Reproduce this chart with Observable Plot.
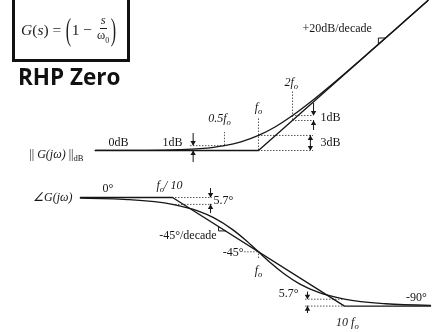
<!DOCTYPE html>
<html>
<head>
<meta charset="utf-8">
<script src="https://cdn.jsdelivr.net/npm/d3@7"></script>
<script src="https://cdn.jsdelivr.net/npm/@observablehq/plot@0.6"></script>
<style>
  html, body { margin: 0; padding: 0; background: #fff; }
  #page { position: relative; width: 436px; height: 332px; overflow: hidden; background: #fff; }
  #mag, #phase { position: absolute; left: 0; will-change: transform; }
  #mag { top: 0; }
  #phase { top: 170px; }
  #box {
    position: absolute; left: 12px; top: -3px; width: 106px; height: 59px;
    padding-left: 6px; border: 3px solid #111; color: #1e1e1e;
    font-family: "Liberation Serif", serif; font-size: 15.5px;
    display: flex; align-items: center; white-space: nowrap;
  }
  #box .it { font-style: italic; }
  #box .big { display: inline-block; font-size: 32px; line-height: 1; transform: scaleX(0.5); margin: 0 -2px; position: relative; top: -1px; }
  #box .frac { display: inline-flex; flex-direction: column; align-items: center; font-size: 12.5px; line-height: 1.05; margin: 0 1px; }
  #box .frac .num { border-bottom: 1px solid #1e1e1e; padding: 0 1px; font-style: italic; }
  #box sub { font-size: 8px; }
  #title {
    position: absolute; left: 18px; top: 66px; line-height: 1;
    font-family: "Open Sans", sans-serif; font-weight: 700; font-size: 22.5px; color: #111;
  }
</style>
</head>
<body>
<div id="page">
  <div id="mag"></div>
  <div id="phase"></div>
  <div id="box"><span class="it">G</span>(<span class="it">s</span>)&nbsp;=&nbsp;<span class="big">(</span>1&nbsp;−&nbsp;<span class="frac"><span class="num">s</span><span>ω<sub>0</sub></span></span><span class="big">)</span></div>
  <div id="title">RHP Zero</div>
</div>
<script>
// Frequencies are in units of f0.
// Magnitude: exact response and straight-line asymptote (dB)
const magFreq = [0.036, 0.1, 0.2, 0.3, 0.4, 0.5, 0.7, 1, 1.4, 2, 3, 5, 10, 20, 31.6];
const magDb   = [0.01, 0.04, 0.17, 0.37, 0.64, 0.97, 1.73, 3.01, 4.70, 6.99, 10.0, 14.15, 20.04, 26.03, 30.0];
const magAsymFreq = [0.036, 1, 31.6];
const magAsymDb   = [0, 0, 30];

// Phase: exact response and asymptote (degrees)
const phaseFreq = [0.0085, 0.03, 0.1, 0.2, 0.3, 0.5, 0.7, 1, 1.4, 2, 3, 5, 10, 30, 100];
const phaseDeg  = [-0.5, -1.7, -5.7, -11.3, -16.7, -26.6, -35.0, -45.0, -54.5, -63.4, -71.6, -78.7, -84.3, -88.1, -89.4];
const phaseAsymFreq = [0.0085, 0.1, 10, 100];
const phaseAsymDeg  = [0, 0, -90, -90];

// Magnitude guides: dotted verticals at 0.5f0, f0, 2f0 and dotted levels
const magGuideFreq = [0.5, 1, 2];
const magGuideLo   = [0.97, 0, 6.0];
const magGuideHi   = [3.6, 6.4, 12];
const magLevelDb   = [0.97, 3.01, 0, 6.99, 6.0];
const magLevelFrom = [0.25, 1, 1, 2, 2];
const magLevelTo   = [0.5, 3.07, 3.07, 3.07, 3.07];
// Magnitude dimension arrows (tail -> tip)
const magArrowFreq = [0.264, 0.264, 2.88, 2.88, 3.07, 3.07];
const magArrowFrom = [3.4, -2.4, 1.5, 1.5, 9.4, 4.0];
const magArrowTo   = [0.97, 0, 3.01, 0, 6.99, 6.0];
// Slope marker on the +20dB/decade asymptote
const magSlopeFreq = [11.5, 11.5, 13.3];
const magSlopeDb   = [21.2, 22.5, 22.5];

// Magnitude labels
const magText    = ["|| *G(jω)* ||_dB", "0dB", "1dB", "1dB", "3dB", "+20dB/decade"];
const magTextF   = [0.0283, 0.0577, 0.173, 3.54, 3.54, 2.45];
const magTextDb  = [-0.8, 1.6, 1.6, 6.6, 1.6, 24.4];
const magTextAnc = ["end", "middle", "middle", "start", "start", "start"];
const magFreqText  = ["0.5f_o", "f_o", "2f_o"];
const magFreqTextF = [0.452, 1, 1.95];
const magFreqTextDb = [6.4, 8.6, 13.6];

// Phase guides
const phaseLevelDeg  = [0, -5.7, -45, -84.3, -90];
const phaseLevelFrom = [0.1, 0.1, 0.69, 3.52, 3.52];
const phaseLevelTo   = [0.29, 0.29, 1, 10, 10];
const phaseGuideFreq = [1];
const phaseGuideLo   = [-50.6];
const phaseGuideHi   = [-45];
const phaseArrowFreq = [0.277, 0.277, 3.71, 3.71];
const phaseArrowFrom = [7.5, -13.3, -78.4, -96.2];
const phaseArrowTo   = [0, -5.7, -84.3, -90];
const phaseSlopeFreq = [0.343, 0.343, 0.413];
const phaseSlopeDeg  = [-24.1, -27.7, -27.7];

// Phase labels
const phaseText    = ["0°", "5.7°", "-45°/decade", "-45°", "5.7°", "-90°"];
const phaseTextF   = [0.0153, 0.300, 0.151, 0.669, 2.92, 68.7];
const phaseTextDeg = [7.5, -2.5, -31.5, -45, -79, -82.7];
const phaseTextAnc = ["start", "start", "middle", "end", "end", "middle"];
const phaseItText    = ["∠G(jω)", "f_o/ 10", "f_o", "10 f_o"];
const phaseItTextF   = [0.00687, 0.092, 1, 10.8];
const phaseItTextDeg = [0, 10, -60.5, -103];
const phaseItTextAnc = ["end", "middle", "middle", "middle"];

const INK = "#161616";
const GUIDE = "#444";
const serif = "Liberation Serif, Times New Roman, serif";

const rows = (cols) => cols[Object.keys(cols)[0]].map((_, i) =>
  Object.fromEntries(Object.entries(cols).map(([k, v]) => [k, v[i]])));

function arrowMarks(f, from, to) {
  const data = rows({f, from, to});
  const down = data.filter(d => d.to < d.from);
  const up = data.filter(d => d.to >= d.from);
  return [
    Plot.ruleX(data, {x: "f", y1: "from", y2: "to", stroke: INK, strokeWidth: 1}),
    Plot.dot(down, {x: "f", y: "to", symbol: "triangle", r: 2, fill: INK, stroke: "none", rotate: 180, dy: -3}),
    Plot.dot(up, {x: "f", y: "to", symbol: "triangle", r: 2, fill: INK, stroke: "none", dy: 3})
  ];
}

// Rich text: _x gives a subscript, *...* gives italics
function richText(svg) {
  const ns = "http://www.w3.org/2000/svg";
  for (const t of svg.querySelectorAll("text")) {
    const s = t.textContent;
    if (!/[_*]/.test(s)) continue;
    while (t.firstChild) t.removeChild(t.firstChild);
    let sub = false;
    for (const part of s.split(/(_\w+|\*[^*]+\*)/)) {
      if (!part) continue;
      const span = document.createElementNS(ns, "tspan");
      span.setAttribute("fill", INK);
      if (part[0] === "_") {
        span.textContent = part.slice(1);
        span.setAttribute("font-size", "72%");
        span.setAttribute("dy", "3");
        sub = true;
      } else {
        if (part[0] === "*") {
          span.textContent = part.slice(1, -1);
          span.setAttribute("font-style", "italic");
        } else span.textContent = part;
        if (sub) { span.setAttribute("dy", "-3"); sub = false; }
      }
      t.appendChild(span);
    }
  }
}

const style = {fontFamily: serif, fontSize: "12px", color: INK, background: "transparent", overflow: "visible"};

const magLabels = rows({t: magText, f: magTextF, db: magTextDb, a: magTextAnc});

const mag = Plot.plot({
  width: 436, height: 170, margin: 0, style,
  x: {type: "log", domain: [0.00521, 37.6], axis: null},
  y: {domain: [-4, 30], axis: null},
  marks: [
    Plot.ruleX(rows({f: magGuideFreq, lo: magGuideLo, hi: magGuideHi}), {x: "f", y1: "lo", y2: "hi", stroke: GUIDE, strokeWidth: 0.9, strokeDasharray: "1.5,1.5"}),
    Plot.ruleY(rows({db: magLevelDb, a: magLevelFrom, b: magLevelTo}), {y: "db", x1: "a", x2: "b", stroke: GUIDE, strokeWidth: 0.9, strokeDasharray: "1.5,1.5"}),
    Plot.line(rows({f: magAsymFreq, db: magAsymDb}), {x: "f", y: "db", stroke: INK, strokeWidth: 1.35}),
    Plot.line(rows({f: magFreq, db: magDb}), {x: "f", y: "db", curve: "monotone-x", stroke: INK, strokeWidth: 1.35}),
    Plot.line(rows({f: magSlopeFreq, db: magSlopeDb}), {x: "f", y: "db", stroke: INK, strokeWidth: 1}),
    ...arrowMarks(magArrowFreq, magArrowFrom, magArrowTo),
    ...["start", "middle", "end"].map(a => Plot.text(magLabels.filter(d => d.a === a), {x: "f", y: "db", text: "t", textAnchor: a, fill: INK})),
    Plot.text(rows({t: magFreqText, f: magFreqTextF, db: magFreqTextDb}), {x: "f", y: "db", text: "t", textAnchor: "middle", fontStyle: "italic", fill: INK})
  ]
});

const phaseLabels = rows({t: phaseText, f: phaseTextF, deg: phaseTextDeg, a: phaseTextAnc});
const phaseItLabels = rows({t: phaseItText, f: phaseItTextF, deg: phaseItTextDeg, a: phaseItTextAnc});

const phase = Plot.plot({
  width: 436, height: 162, margin: 0, style,
  x: {type: "log", domain: [0.001, 117.4], axis: null},
  y: {domain: [-111.9, 22.4], axis: null},
  marks: [
    Plot.ruleY(rows({deg: phaseLevelDeg, a: phaseLevelFrom, b: phaseLevelTo}), {y: "deg", x1: "a", x2: "b", stroke: GUIDE, strokeWidth: 0.9, strokeDasharray: "1.5,1.5"}),
    Plot.ruleX(rows({f: phaseGuideFreq, lo: phaseGuideLo, hi: phaseGuideHi}), {x: "f", y1: "lo", y2: "hi", stroke: GUIDE, strokeWidth: 0.9, strokeDasharray: "1.5,1.5"}),
    Plot.line(rows({f: phaseAsymFreq, deg: phaseAsymDeg}), {x: "f", y: "deg", stroke: INK, strokeWidth: 1.35}),
    Plot.line(rows({f: phaseFreq, deg: phaseDeg}), {x: "f", y: "deg", curve: "monotone-x", stroke: INK, strokeWidth: 1.35}),
    Plot.line(rows({f: phaseSlopeFreq, deg: phaseSlopeDeg}), {x: "f", y: "deg", stroke: INK, strokeWidth: 1}),
    ...arrowMarks(phaseArrowFreq, phaseArrowFrom, phaseArrowTo),
    ...["start", "middle", "end"].map(a => Plot.text(phaseLabels.filter(d => d.a === a), {x: "f", y: "deg", text: "t", textAnchor: a, fill: INK})),
    ...["middle", "end"].map(a => Plot.text(phaseItLabels.filter(d => d.a === a), {x: "f", y: "deg", text: "t", textAnchor: a, fontStyle: "italic", fill: INK}))
  ]
});

richText(mag);
richText(phase);
document.getElementById("mag").appendChild(mag);
document.getElementById("phase").appendChild(phase);
</script>
</body>
</html>
